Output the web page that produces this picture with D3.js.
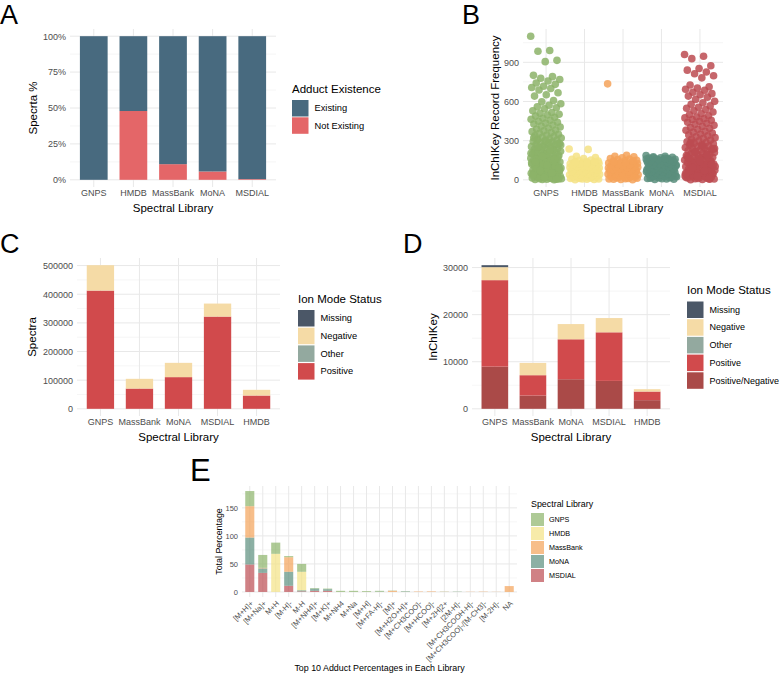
<!DOCTYPE html>
<html>
<head>
<meta charset="utf-8">
<script src="https://cdn.jsdelivr.net/npm/d3@7"></script>
<style>
  body{margin:0;background:#fff}
  svg{font-family:"Liberation Sans",Arial,sans-serif}
</style>
</head>
<body>
<svg id="fig" width="779" height="673"></svg>
<script>
"use strict"

// ---------- A : adduct existence ----------
let librariesA = ["GNPS", "HMDB", "MassBank", "MoNA", "MSDIAL"]
let adductStatus = ["Existing", "Not Existing"]
let notExistingShare = [0, 0.479, 0.109, 0.058, 0.005]
let ticksA = [0, 0.25, 0.5, 0.75, 1]

// ---------- B : InChIKey record frequency ----------
let freqGNPS = [1100, 990, 985, 915, 905, 800, 790, 778, 768, 757, 742, 731, 716, 707, 699, 688, 667, 652, 641, 607, 597, 583, 571, 560, 552, 544, 529, 516, 509, 502, 496, 488, 479, 471, 463, 456, 449, 441, 434, 427, 419, 411, 404, 397,
  389, 382, 376, 369, 362, 356, 349, 343, 337, 331, 326, 320, 314, 309, 303, 298, 293, 288, 283, 278, 273, 268, 263, 259, 254, 249, 245, 240, 236, 231, 227, 223, 218, 214, 210, 206, 202, 198, 194, 190, 186, 182, 178, 174, 170, 166,
  163, 159, 155, 151, 148, 144, 140, 137, 133, 129, 126, 122, 119, 115, 112, 108, 105, 101, 98, 95, 91, 88, 85, 81, 78, 75, 72, 69, 66, 62, 59, 56, 53, 50, 47, 44, 41, 38, 36, 33, 30, 27, 24, 22, 19, 16, 14, 11, 9, 6, 4, 2, 1,
  3, 8, 13, 21, 29, 37, 46, 55, 64, 74, 84, 94, 104, 117, 131, 146, 161, 177, 193, 211, 229, 248, 267, 286, 305,
  5, 17, 34, 52, 71, 92, 113, 136, 158, 181, 204, 226, 251, 276, 301, 322]
let freqHMDB = [236, 233, 180, 171, 163, 157, 152, 147, 143, 139, 135, 131, 127, 123, 119, 115, 111, 107, 103, 99, 95, 91, 87, 83, 79, 75, 71, 67, 63, 59, 55, 51, 47, 43, 39, 35, 31, 27, 23, 19, 15, 11, 7, 4, 1,
  2, 6, 10, 14, 18, 22, 26, 30, 34, 38, 42, 46, 50, 54, 58, 62, 66, 70, 74, 78, 82, 86, 90, 94, 98, 102, 106, 110, 114, 118, 122, 126, 130, 134, 138]
let freqMassBank = [735, 187, 181, 176, 168, 163, 160, 155, 150, 146, 141, 137, 132, 128, 124, 120, 116, 112, 108, 104, 100, 96, 92, 88, 84, 80, 76, 72, 68, 64, 60, 56, 52, 48, 44, 40, 36, 32, 28, 24, 20, 16, 12, 8, 4, 1,
  3, 7, 11, 15, 19, 23, 27, 31, 35, 39, 43, 47, 51, 55, 59, 63, 67, 71, 75, 79, 83, 87, 91, 95, 99, 103, 107, 111, 115, 119, 125, 131, 138, 145]
let freqMoNA = [186, 180, 176, 172, 169, 166, 163, 160, 157, 154, 151, 148, 145, 142, 139, 136, 133, 130, 126, 122, 118, 114, 110, 106, 102, 98, 94, 90, 86, 82, 78, 74, 70, 66, 62, 58, 54, 50, 46, 42, 38, 34, 30, 26, 22, 18, 14, 10, 6, 2,
  4, 8, 12, 16, 20, 24, 28, 32, 36, 40, 44, 48, 52, 56, 60, 64, 68, 72, 76, 80, 84, 88, 92, 96, 100, 104, 108, 112, 116, 120, 124, 128, 132, 136, 140, 144, 148, 152, 156, 160, 164, 168]
let freqMSDIAL = [960, 946, 928, 873, 852, 840, 826, 812, 797, 781, 726, 713, 702, 694, 686, 671, 660, 651, 641, 633, 616, 601, 590, 579, 566, 556, 548, 539, 528, 519, 506, 498, 490, 481, 474, 468, 462, 456, 449, 441, 433, 425, 417, 409,
  401, 394, 387, 380, 372, 365, 358, 351, 344, 337, 330, 323, 317, 310, 304, 298, 292, 286, 280, 275, 269, 264, 258, 253, 248, 243, 238, 233, 228, 223, 218, 213, 209, 204, 199, 195, 190, 186, 181, 177, 173, 168, 164, 160, 156, 152,
  148, 144, 140, 136, 132, 128, 124, 120, 116, 113, 109, 105, 101, 98, 94, 90, 87, 83, 80, 76, 73, 69, 66, 62, 59, 56, 52, 49, 46, 43, 39, 36, 33, 30, 27, 24, 21, 18, 15, 12, 9, 6, 3, 1,
  5, 11, 17, 25, 34, 44, 54, 65, 77, 89, 102, 115, 130, 145, 162, 179, 197, 216, 236, 257, 278,
  8, 28, 48, 70, 93, 118, 141, 166, 189, 214, 239, 262, 288]
let ticksB = [0, 300, 600, 900]

// ---------- C / D : ion mode status ----------
let librariesCD = ["GNPS", "MassBank", "MoNA", "MSDIAL", "HMDB"]
let ionModesC = ["Missing", "Negative", "Other", "Positive"]
let spectraMissing = [0, 0, 0, 0, 0]
let spectraNegative = [88600, 33900, 49900, 45400, 19900]
let spectraOther = [0, 0, 0, 0, 0]
let spectraPositive = [412800, 70800, 110600, 322000, 46400]
let ticksC = [0, 100000, 200000, 300000, 400000, 500000]

let ionModesD = ["Missing", "Negative", "Other", "Positive", "Positive/Negative"]
let keysMissing = [420, 0, 0, 0, 0]
let keysNegative = [2760, 2610, 3230, 3030, 500]
let keysOther = [0, 0, 0, 0, 0]
let keysPositive = [18370, 4320, 8480, 10320, 1830]
let keysPosNeg = [8960, 2820, 6290, 5930, 1840]
let ticksD = [0, 10000, 20000, 30000]

// ---------- E : top adducts ----------
let adducts = ["[M+H]+", "[M+Na]+", "M+H", "[M-H]-", "M-H", "[M+NH4]+", "[M+K]+", "M+NH4", "M+Na", "[M+H]", "[M+FA-H]-", "[M]+",
  "[M+H2O+H]+", "[M+CH3COO]-", "[M+HCOO]-", "[M+2H]2+", "[2M-H]-", "[M+CH3COOH-H]-", "[M+CH3COO]-/[M-CH3]-", "[M-2H]-", "NA"]
let librariesE = ["GNPS", "HMDB", "MassBank", "MoNA", "MSDIAL"]
let pctGNPS = [27, 23, 20, 2, 14, 1, 1, 2, 2, 1.5, 1.5, 0.5, 0.5, 0, 0, 0.3, 0.3, 0, 0, 0, 0]
let pctHMDB = [0, 0, 68, 0, 33, 0, 0, 0, 0, 0, 0, 0, 0, 0, 0, 0, 0, 0, 0, 0, 0]
let pctMassBank = [56, 1, 0, 26, 0, 0, 0, 0, 0, 0, 0, 2, 0, 0.8, 1, 0.3, 0, 0.4, 0.6, 0.3, 10.5]
let pctMoNA = [48, 8, 0, 25, 2, 4, 3, 0, 0, 0, 0.5, 0, 0.8, 0, 0, 0, 0.3, 0, 0, 0, 0]
let pctMSDIAL = [49, 34, 0, 11, 1, 2, 2, 0, 0, 0, 0, 0, 0, 0, 0, 0, 0, 0, 0, 0, 0]
let ticksE = [0, 50, 100, 150]

// ---------- colours ----------
let existColors = {"Existing": "#486a7f", "Not Existing": "#e46668"}
let libColors = {"GNPS": "#8cb369", "HMDB": "#f4e285", "MassBank": "#f4a259", "MoNA": "#5b8e7d", "MSDIAL": "#bc4b51"}
let ionColors = {"Missing": "#4b5767", "Negative": "#f5dba6", "Other": "#93a99f", "Positive": "#d14a4c", "Positive/Negative": "#aa4a48"}

let svg = d3.select("#fig")

/**
 * Band scale mimicking ggplot's discrete axis (0.6 expansion, 0.7 bar width)
 */
function catScale(cats, x0, x1){
  return d3.scaleBand().domain(cats).range([x0, x1]).paddingInner(0.3).paddingOuter(0.25)
}

/**
 * y scale with ggplot's 5% expansion, box given in pixels
 */
function valScale(maxV, y0, y1){
  let pad = maxV * 0.05
  return d3.scaleLinear().domain([-pad, maxV + pad]).range([y1, y0])
}

/**
 * Grid (theme_minimal) + y tick labels + category labels
 */
function drawFrame(x, y, ticks, opts){
  let g = svg.append("g")
  let [x0, x1] = x.range()
  let [yb, yt] = y.range()
  let step = ticks[1] - ticks[0]
  let minors = ticks.slice(0, -1).map(t => t + step / 2)
  if (ticks[ticks.length - 1] + step / 2 <= y.domain()[1]) minors.push(ticks[ticks.length - 1] + step / 2)

  g.append("g").selectAll("line").data(minors).join("line")
      .attr("x1", x0).attr("x2", x1).attr("y1", d => y(d)).attr("y2", d => y(d))
      .attr("stroke", "#f0f0f0").attr("stroke-width", 0.6)
  g.append("g").selectAll("line").data(ticks).join("line")
      .attr("x1", x0).attr("x2", x1).attr("y1", d => y(d)).attr("y2", d => y(d))
      .attr("stroke", "#e8e8e8").attr("stroke-width", 1)
  g.append("g").selectAll("line").data(x.domain()).join("line")
      .attr("x1", d => x(d) + x.bandwidth() / 2).attr("x2", d => x(d) + x.bandwidth() / 2)
      .attr("y1", yt).attr("y2", yb)
      .attr("stroke", "#e8e8e8").attr("stroke-width", 1)

  let ya = g.append("g").attr("transform", "translate(" + x0 + ",0)")
      .call(d3.axisLeft(y).tickValues(ticks).tickSize(0).tickPadding(opts.yPad || 4).tickFormat(opts.fmt || (d => d)))
  ya.select(".domain").remove()
  ya.selectAll("text").attr("fill", "#4d4d4d").attr("font-size", opts.tickSize || 9)
  ya.attr("font-family", null)

  if (!opts.rotate){
    let xa = g.append("g").attr("transform", "translate(0," + yb + ")")
        .call(d3.axisBottom(x).tickSize(0).tickPadding(3))
    xa.select(".domain").remove()
    xa.selectAll("text").attr("fill", "#4d4d4d").attr("font-size", opts.tickSize || 9)
    xa.attr("font-family", null)
  } else {
    g.append("g").selectAll("text").data(x.domain()).join("text")
        .attr("transform", d => "translate(" + (x(d) + x.bandwidth() / 2) + "," + (yb + 3) + ") rotate(-45)")
        .attr("text-anchor", "end").attr("dy", "0.75em")
        .attr("fill", "#4d4d4d").attr("font-size", opts.tickSize)
        .text(d => d)
  }
  return g
}

function axisTitles(x, y, xTitle, yTitle, o){
  let [x0, x1] = x.range()
  let [yb, yt] = y.range()
  svg.append("text").attr("x", (x0 + x1) / 2).attr("y", o.xTitleY)
      .attr("text-anchor", "middle").attr("font-size", o.size).text(xTitle)
  svg.append("text")
      .attr("transform", "translate(" + o.yTitleX + "," + (yb + yt) / 2 + ") rotate(-90)")
      .attr("text-anchor", "middle").attr("dominant-baseline", "central")
      .attr("font-size", o.size).text(yTitle)
}

function legend(x0, y0, title, items, colors, o){
  let g = svg.append("g").attr("transform", "translate(" + x0 + "," + y0 + ")")
  g.append("text").attr("x", 0).attr("y", 0).attr("font-size", o.titleSize).text(title)
  let row = g.selectAll("g.key").data(items).join("g")
      .attr("transform", (d, i) => "translate(0," + (o.top + i * o.step) + ")")
  row.append("rect").attr("width", o.key).attr("height", o.key)
      .attr("fill", d => colors[d]).attr("fill-opacity", o.alpha || 1)
  row.append("text").attr("x", o.key + o.gap).attr("y", o.key / 2)
      .attr("dominant-baseline", "central").attr("font-size", o.labelSize).text(d => d)
}

function panelLetter(letter, x, y, size){
  svg.append("text").attr("x", x).attr("y", y).attr("font-size", size).text(letter)
}

// ================= A =================
{
  let x = catScale(librariesA, 70, 276)
  let y = valScale(1, 29, 187)
  drawFrame(x, y, ticksA, {fmt: d3.format(".0%")})
  let rows = librariesA.map((lib, i) => ({lib: lib, "Not Existing": notExistingShare[i], "Existing": 1 - notExistingShare[i]}))
  let series = d3.stack().keys(["Not Existing", "Existing"])(rows)
  svg.append("g").selectAll("g").data(series).join("g")
      .attr("fill", s => existColors[s.key])
    .selectAll("rect").data(s => s).join("rect")
      .attr("x", d => x(d.data.lib)).attr("width", x.bandwidth())
      .attr("y", d => y(d[1])).attr("height", d => y(d[0]) - y(d[1]))
  axisTitles(x, y, "Spectral Library", "Specrta %", {xTitleY: 212, yTitleX: 33, size: 11.5})
  legend(292, 93, "Adduct Existence", adductStatus, existColors,
      {titleSize: 11.5, labelSize: 9.3, key: 16.5, step: 17.3, top: 7, gap: 6})
  panelLetter("A", 0, 24, 27)
}

// ================= B =================
{
  let x = catScale(librariesA, 523, 723)
  let freqs = {"GNPS": freqGNPS, "HMDB": freqHMDB, "MassBank": freqMassBank, "MoNA": freqMoNA, "MSDIAL": freqMSDIAL}
  let maxF = d3.max(Object.values(freqs), a => d3.max(a))
  let y = valScale(maxF, 29, 187)
  drawFrame(x, y, ticksB, {})
  let jw = x.step() * 0.4
  librariesA.forEach(lib => {
    svg.append("g").attr("fill", libColors[lib]).attr("fill-opacity", 0.85)
      .selectAll("circle").data(freqs[lib]).join("circle")
        // golden-ratio sequence used as a deterministic horizontal jitter
        .attr("cx", (d, i) => x(lib) + x.bandwidth() / 2 + (((i * 0.6180339887) % 1) - 0.5) * 2 * jw)
        .attr("cy", d => y(d))
        .attr("r", 3.8)
  })
  axisTitles(x, y, "Spectral Library", "InChIKey Record Frequency", {xTitleY: 212, yTitleX: 495, size: 11.5})
  panelLetter("B", 462, 24, 27)
}

// ================= C =================
{
  let x = catScale(librariesCD, 77, 280)
  let rows = librariesCD.map((lib, i) => ({lib: lib, Missing: spectraMissing[i], Negative: spectraNegative[i], Other: spectraOther[i], Positive: spectraPositive[i]}))
  let series = d3.stack().keys(["Positive", "Other", "Negative", "Missing"])(rows)
  let y = valScale(d3.max(series[series.length - 1], d => d[1]), 258, 416)
  drawFrame(x, y, ticksC, {})
  svg.append("g").selectAll("g").data(series).join("g")
      .attr("fill", s => ionColors[s.key])
    .selectAll("rect").data(s => s).join("rect")
      .attr("x", d => x(d.data.lib)).attr("width", x.bandwidth())
      .attr("y", d => y(d[1])).attr("height", d => y(d[0]) - y(d[1]))
  axisTitles(x, y, "Spectral Library", "Spectra", {xTitleY: 441, yTitleX: 32, size: 11.5})
  legend(298, 303, "Ion Mode Status", ionModesC, ionColors,
      {titleSize: 11.5, labelSize: 9.3, key: 16.5, step: 17.7, top: 7, gap: 6})
  panelLetter("C", 0, 253, 27)
}

// ================= D =================
{
  let x = catScale(librariesCD, 472, 670)
  let rows = librariesCD.map((lib, i) => ({lib: lib, Missing: keysMissing[i], Negative: keysNegative[i], Other: keysOther[i],
    Positive: keysPositive[i], "Positive/Negative": keysPosNeg[i]}))
  let series = d3.stack().keys(["Positive/Negative", "Positive", "Other", "Negative", "Missing"])(rows)
  let y = valScale(d3.max(series[series.length - 1], d => d[1]), 258, 416)
  drawFrame(x, y, ticksD, {})
  svg.append("g").selectAll("g").data(series).join("g")
      .attr("fill", s => ionColors[s.key])
    .selectAll("rect").data(s => s).join("rect")
      .attr("x", d => x(d.data.lib)).attr("width", x.bandwidth())
      .attr("y", d => y(d[1])).attr("height", d => y(d[0]) - y(d[1]))
  axisTitles(x, y, "Spectral Library", "InChIKey", {xTitleY: 441, yTitleX: 433, size: 11.5})
  legend(687, 294, "Ion Mode Status", ionModesD, ionColors,
      {titleSize: 11.5, labelSize: 9, key: 16.5, step: 17.7, top: 7.5, gap: 6})
  panelLetter("D", 403, 253, 27)
}

// ================= E =================
{
  let x = catScale(adducts, 242, 517)
  let pcts = {"GNPS": pctGNPS, "HMDB": pctHMDB, "MassBank": pctMassBank, "MoNA": pctMoNA, "MSDIAL": pctMSDIAL}
  let rows = adducts.map((a, i) => {
    let r = {adduct: a}
    librariesE.forEach(lib => r[lib] = pcts[lib][i])
    return r
  })
  let series = d3.stack().keys(["MSDIAL", "MoNA", "MassBank", "HMDB", "GNPS"])(rows)
  let y = valScale(d3.max(series[series.length - 1], d => d[1]), 486, 597)
  drawFrame(x, y, ticksE, {rotate: true, tickSize: 7.5, yPad: 4})
  svg.append("g").selectAll("g").data(series).join("g")
      .attr("fill", s => libColors[s.key]).attr("fill-opacity", 0.7)
    .selectAll("rect").data(s => s).join("rect")
      .attr("x", d => x(d.data.adduct)).attr("width", x.bandwidth())
      .attr("y", d => y(d[1])).attr("height", d => y(d[0]) - y(d[1]))
  axisTitles(x, y, "Top 10 Adduct Percentages in Each Library", "Total Percentage", {xTitleY: 671, yTitleX: 219, size: 8.9})
  legend(531, 507, "Spectral Library", librariesE, libColors,
      {titleSize: 8.9, labelSize: 7.2, key: 13, step: 14, top: 6, gap: 5, alpha: 0.7})
  panelLetter("E", 190, 481, 31)
}
</script>
</body>
</html>
